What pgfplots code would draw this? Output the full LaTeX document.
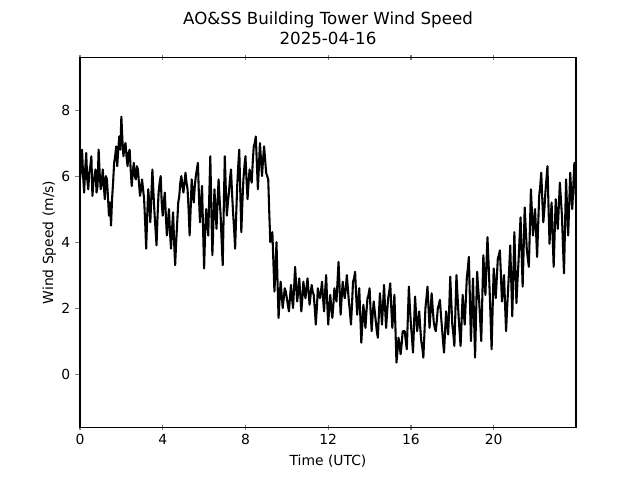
\documentclass[border=0pt]{standalone}
\usepackage{pgfplots}
\pgfplotsset{compat=1.18}
\usepackage{fontspec}
\setmainfont{DejaVu Sans}
\begin{document}
\fontsize{10}{12}\selectfont
\begin{tikzpicture}
\useasboundingbox (-57.6pt,-38.016pt) rectangle (403.2pt,307.584pt);
\begin{axis}[
  scale only axis,
  width=357.12pt, height=266.11pt,
  xmin=0, xmax=23.98, ymin=-1.61, ymax=9.59,
  xtick={0,4,8,12,16,20}, ytick={0,2,4,6,8},
  xtick pos=both, ytick pos=left,
  tick align=center,
  major tick length=3.5pt,
  ytick style={xshift=-1.75pt, line width=0.8pt},
  xtick style={line width=0.8pt},
  axis line style={line width=0.8pt},
  yticklabel style={xshift=-1.75pt},
  /pgf/number format/assume math mode=true,
  tick label style={font=\fontsize{10}{12}\selectfont},
  label style={font=\fontsize{10}{12}\selectfont},
  ylabel style={yshift=-3pt},
  xlabel={Time (UTC)}, ylabel={Wind Speed (m/s)},
  title={AO\&SS Building Tower Wind Speed\\2025-04-16},
  title style={at={(0.5,1)}, anchor=south, yshift=0pt, align=center, font=\fontsize{12}{14.4}\selectfont},
]
\addplot[black, line width=1.5pt, line join=round, mark=none] coordinates {
(0.0,5.9)(0.05,6.3)(0.1,6.8)(0.15,6.0)(0.2,5.5)(0.25,6.2)(0.3,6.7)(0.35,5.9)(0.4,5.6)(0.45,6.1)(0.5,6.3)(0.55,6.6)(0.6,5.4)(0.65,5.8)(0.7,6.0)(0.75,6.2)(0.8,5.5)(0.85,5.7)(0.9,6.8)(0.95,6.1)
(1.0,5.6)(1.05,5.8)(1.1,6.2)(1.15,5.7)(1.2,5.3)(1.25,6.0)(1.3,5.9)(1.35,5.4)(1.4,4.8)(1.45,5.2)(1.5,4.5)(1.55,5.3)(1.6,5.8)(1.65,6.4)(1.7,6.6)(1.75,6.9)(1.8,6.3)(1.85,6.8)(1.9,7.2)(1.95,6.8)
(2.0,7.8)(2.05,7.1)(2.1,6.6)(2.15,6.9)(2.2,7.0)(2.25,6.6)(2.3,6.3)(2.35,6.7)(2.4,6.8)(2.45,6.2)(2.5,5.7)(2.55,6.1)(2.6,6.4)(2.65,6.0)(2.7,5.9)(2.75,6.3)(2.8,6.2)(2.85,5.8)(2.9,5.4)(2.95,5.6)
(3.0,5.9)(3.05,5.6)(3.1,5.3)(3.15,4.6)(3.2,3.8)(3.25,4.8)(3.3,5.6)(3.35,5.2)(3.4,4.6)(3.45,5.4)(3.5,6.2)(3.55,5.5)(3.6,4.9)(3.65,4.4)(3.7,3.9)(3.75,4.8)(3.8,5.5)(3.85,5.8)(3.9,6.0)(3.95,5.2)
(4.0,4.8)(4.05,5.2)(4.1,5.5)(4.15,4.8)(4.2,4.2)(4.25,4.6)(4.3,5.0)(4.35,4.3)(4.4,3.8)(4.45,4.4)(4.5,4.9)(4.55,4.0)(4.6,3.3)(4.65,4.0)(4.7,4.6)(4.75,5.2)(4.8,5.4)(4.85,5.8)(4.9,6.0)(4.95,5.7)
(5.0,5.5)(5.05,5.8)(5.1,6.1)(5.15,5.8)(5.2,5.6)(5.25,5.0)(5.3,4.2)(5.35,5.0)(5.4,5.9)(5.45,5.5)(5.5,5.2)(5.55,5.7)(5.6,6.0)(5.65,6.2)(5.7,6.4)(5.75,5.4)(5.8,4.6)(5.85,5.2)(5.9,5.7)(5.95,4.4)
(6.0,3.2)(6.05,4.3)(6.1,5.0)(6.15,4.6)(6.2,4.2)(6.25,5.4)(6.3,6.6)(6.35,5.0)(6.4,3.6)(6.45,4.6)(6.5,5.6)(6.55,5.0)(6.6,4.4)(6.65,5.2)(6.7,5.9)(6.75,5.3)(6.8,4.8)(6.85,4.0)(6.9,3.3)(6.95,5.0)
(7.0,6.6)(7.05,5.6)(7.1,4.8)(7.15,5.2)(7.2,5.5)(7.25,5.9)(7.3,6.2)(7.35,5.5)(7.4,4.9)(7.45,4.4)(7.5,3.8)(7.55,4.8)(7.6,5.7)(7.65,6.3)(7.7,6.8)(7.75,5.5)(7.8,4.3)(7.85,5.2)(7.9,5.9)(7.95,6.3)
(8.0,6.6)(8.05,5.9)(8.1,5.3)(8.15,5.8)(8.2,6.2)(8.25,6.0)(8.3,5.8)(8.35,6.4)(8.4,6.9)(8.45,7.0)(8.5,7.2)(8.55,6.4)(8.6,5.6)(8.65,6.3)(8.7,7.0)(8.75,6.5)(8.8,6.0)(8.85,6.5)(8.9,6.9)(8.95,6.5)
(9.0,6.1)(9.05,6.0)(9.1,5.9)(9.15,4.9)(9.2,4.0)(9.25,4.2)(9.3,4.3)(9.35,3.4)(9.4,2.5)(9.45,3.2)(9.5,4.0)(9.55,2.8)(9.6,1.7)(9.65,2.3)(9.7,2.8)(9.75,2.4)(9.8,2.0)(9.85,2.3)(9.9,2.6)(9.95,2.5)
(10.0,2.3)(10.05,2.1)(10.1,1.9)(10.15,2.3)(10.2,2.7)(10.25,2.3)(10.3,2.0)(10.35,2.6)(10.4,3.25)(10.45,2.7)(10.5,2.2)(10.55,2.5)(10.6,2.9)(10.65,2.4)(10.7,1.9)(10.75,2.3)(10.8,2.8)(10.85,2.5)(10.9,2.3)(10.95,2.6)
(11.0,2.9)(11.05,2.5)(11.1,2.1)(11.15,2.4)(11.2,2.7)(11.25,2.5)(11.3,2.4)(11.35,2.0)(11.4,1.5)(11.45,2.0)(11.5,2.6)(11.55,2.4)(11.6,2.3)(11.65,2.5)(11.7,2.8)(11.75,2.3)(11.8,1.9)(11.85,2.5)(11.9,3.0)(11.95,2.2)
(12.0,1.5)(12.05,2.0)(12.1,2.4)(12.15,2.0)(12.2,1.7)(12.25,2.1)(12.3,2.6)(12.35,2.4)(12.4,2.2)(12.45,2.8)(12.5,3.4)(12.55,2.6)(12.6,1.8)(12.65,2.3)(12.7,2.8)(12.75,2.5)(12.8,2.3)(12.85,2.6)(12.9,3.0)(12.95,2.6)
(13.0,2.2)(13.05,1.9)(13.1,1.5)(13.15,2.1)(13.2,2.8)(13.25,2.9)(13.3,3.1)(13.35,2.4)(13.4,1.8)(13.45,2.2)(13.5,2.6)(13.55,1.8)(13.6,0.95)(13.65,1.5)(13.7,2.1)(13.75,1.8)(13.8,1.4)(13.85,1.9)(13.9,2.3)(13.95,2.4)
(14.0,2.6)(14.05,1.9)(14.1,1.3)(14.15,1.8)(14.2,2.2)(14.25,1.9)(14.3,1.6)(14.35,1.3)(14.4,1.1)(14.45,1.8)(14.5,2.45)(14.55,2.0)(14.6,1.5)(14.65,2.1)(14.7,2.7)(14.75,2.0)(14.8,1.4)(14.85,1.9)(14.9,2.3)(14.95,2.5)
(15.0,2.75)(15.05,2.0)(15.1,1.4)(15.15,1.9)(15.2,2.4)(15.25,1.4)(15.3,0.35)(15.35,0.7)(15.4,1.1)(15.45,0.9)(15.5,0.6)(15.55,0.9)(15.6,1.3)(15.65,1.3)(15.7,1.3)(15.75,1.0)(15.8,0.75)(15.85,1.7)(15.9,2.65)(15.95,2.0)
(16.0,1.5)(16.05,1.1)(16.1,0.65)(16.15,1.5)(16.2,2.35)(16.25,1.8)(16.3,1.3)(16.35,1.6)(16.4,1.9)(16.45,1.4)(16.5,1.0)(16.55,0.8)(16.6,0.5)(16.65,1.2)(16.7,2.0)(16.75,2.3)(16.8,2.65)(16.85,2.0)(16.9,1.4)(16.95,1.9)
(17.0,2.45)(17.05,2.0)(17.1,1.6)(17.15,1.4)(17.2,1.3)(17.25,1.6)(17.3,2.0)(17.35,2.1)(17.4,2.25)(17.45,1.8)(17.5,1.4)(17.55,1.0)(17.6,0.65)(17.65,1.3)(17.7,1.9)(17.75,1.5)(17.8,1.2)(17.85,2.0)(17.9,2.95)(17.95,2.2)
(18.0,1.5)(18.05,1.2)(18.1,0.85)(18.15,1.9)(18.2,3.0)(18.25,2.4)(18.3,1.8)(18.35,1.3)(18.4,0.85)(18.45,1.6)(18.5,2.4)(18.55,1.9)(18.6,1.5)(18.65,2.2)(18.7,2.9)(18.75,3.2)(18.8,3.55)(18.85,2.3)(18.9,1.0)(18.95,1.9)
(19.0,2.9)(19.05,1.7)(19.1,0.5)(19.15,1.8)(19.2,3.1)(19.25,2.6)(19.3,2.2)(19.35,1.6)(19.4,1.0)(19.45,2.3)(19.5,3.6)(19.55,3.0)(19.6,2.4)(19.65,3.3)(19.7,4.15)(19.75,3.4)(19.8,2.6)(19.85,1.7)(19.9,0.75)(19.95,2.0)
(20.0,3.2)(20.05,2.8)(20.1,2.3)(20.15,2.9)(20.2,3.5)(20.25,3.6)(20.3,3.75)(20.35,3.0)(20.4,2.2)(20.45,2.6)(20.5,3.0)(20.55,2.1)(20.6,1.3)(20.65,2.0)(20.7,2.6)(20.75,3.2)(20.8,3.9)(20.85,2.8)(20.9,1.75)(20.95,3.0)
(21.0,4.3)(21.05,3.2)(21.1,2.15)(21.15,2.8)(21.2,3.4)(21.25,4.1)(21.3,4.75)(21.35,3.7)(21.4,2.65)(21.45,3.8)(21.5,5.05)(21.55,4.4)(21.6,3.8)(21.65,3.5)(21.7,3.25)(21.75,4.4)(21.8,5.6)(21.85,4.9)(21.9,4.2)(21.95,4.6)
(22.0,5.0)(22.05,4.3)(22.1,3.55)(22.15,4.5)(22.2,5.4)(22.25,5.7)(22.3,6.1)(22.35,5.3)(22.4,4.6)(22.45,5.0)(22.5,5.5)(22.55,5.9)(22.6,6.3)(22.65,5.1)(22.7,3.95)(22.75,4.6)(22.8,5.2)(22.85,4.2)(22.9,3.25)(22.95,4.3)
(23.0,5.3)(23.05,4.8)(23.1,4.4)(23.15,5.1)(23.2,5.8)(23.25,5.3)(23.3,4.8)(23.35,3.9)(23.4,3.05)(23.45,4.5)(23.5,5.9)(23.55,5.0)(23.6,4.2)(23.65,5.1)(23.7,6.1)(23.75,5.5)(23.8,5.0)(23.85,5.7)(23.9,6.4)(23.95,5.8)(23.98,5.2)
};
\end{axis}
\end{tikzpicture}
\end{document}
